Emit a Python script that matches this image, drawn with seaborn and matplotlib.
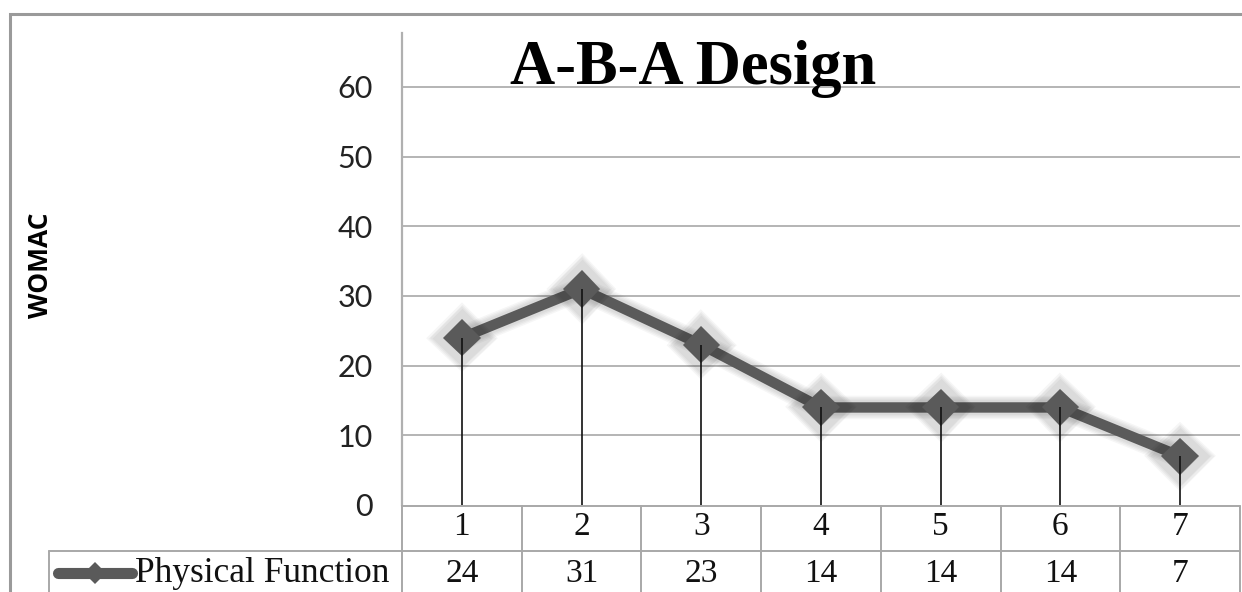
import matplotlib
matplotlib.use("Agg")
import matplotlib.pyplot as plt
import matplotlib.patheffects as pe
from matplotlib.lines import Line2D
from matplotlib.patches import Rectangle
import seaborn as sns
import pandas as pd

# Data
sessions = [1, 2, 3, 4, 5, 6, 7]
physical_function = [24, 31, 23, 14, 14, 14, 7]
series_name = "Physical Function"
y_ticks = [0, 10, 20, 30, 40, 50, 60]
title = "A-B-A Design"
y_label = "WOMAC"

df = pd.DataFrame({"session": sessions, "score": physical_function})

sns.set_theme(style="white")
plt.rcParams["font.family"] = ["DejaVu Sans"]

W, H = 1242, 592
fig = plt.figure(figsize=(W / 100, H / 100), dpi=100)
fig.patch.set_facecolor("white")

# plot area in pixel coordinates
x0, x1 = 402, 1240
y_top, y_bot = 33, 505
ax = fig.add_axes([x0 / W, 1 - y_bot / H, (x1 - x0) / W, (y_bot - y_top) / H])
ax.set_xlim(0.5, 7.5)
ax.set_ylim(0, 67.75)

line_col = "#5a5a5a"
grid_col = "#b4b4b4"
table_col = "#a8a8a8"

# horizontal gridlines
for t in y_ticks[1:]:
    ax.axhline(t, color=grid_col, lw=1.4, zorder=0)

# soft shadow behind the series line
halo = [pe.Stroke(linewidth=w, foreground="#000000", alpha=0.035)
        for w in (17, 15, 13, 11)] + [pe.Normal()]
sns.lineplot(data=df, x="session", y="score", ax=ax, color=line_col,
             linewidth=7.5, marker="D", markersize=19, markeredgewidth=0,
             zorder=3, legend=False)
for ln in ax.lines[-1:]:
    ln.set_path_effects(halo)
    ln.set_solid_joinstyle("miter")

# drop lines from each point to the axis
ax.vlines(sessions, 0, physical_function, colors="#111111", lw=1.2, zorder=4)

# axes styling
for s in ["top", "right", "bottom"]:
    ax.spines[s].set_visible(False)
ax.spines["left"].set_color("#b0b0b0")
ax.spines["left"].set_linewidth(1.6)
ax.set_xticks([])
ax.set_yticks(y_ticks)
ax.set_yticklabels([str(t) for t in y_ticks], fontfamily="Lato", fontsize=22,
                   color="#222222")
ax.tick_params(axis="y", length=0, pad=21)
ax.set_xlabel("")
ax.set_ylabel("")

# title
fig.text(693 / W, 1 - 69 / H, title, ha="center", va="center",
         fontfamily="Liberation Serif", fontweight="bold",
         fontsize=45, color="black", zorder=5)

# y label
fig.text(40 / W, 1 - 265 / H, y_label, rotation=90, ha="center", va="center",
         fontfamily="Open Sans", fontweight="bold", fontsize=19, color="black")

# data table beneath the plot
row1_top, row2_top = 506, 551
fy = lambda py: 1 - py / H
fx = lambda px: px / W
col_w = (x1 - x0) / len(sessions)
tbl_lw = 1.4
fig.add_artist(Line2D([fx(x0), fx(x1)], [fy(row1_top)] * 2, color=table_col, lw=tbl_lw))
fig.add_artist(Line2D([fx(49), fx(x1)], [fy(row2_top)] * 2, color=table_col, lw=tbl_lw))
for i in range(len(sessions) + 1):
    xb = x0 + i * col_w
    fig.add_artist(Line2D([fx(xb)] * 2, [fy(row1_top), fy(H + 5)], color=table_col, lw=tbl_lw))
fig.add_artist(Line2D([fx(49)] * 2, [fy(row2_top), fy(H + 5)], color=table_col, lw=tbl_lw))

tbl_fs = 24
for s, v in zip(sessions, physical_function):
    xc = ax.transData.transform((s, 0))[0] / W
    fig.text(xc, fy(527), str(s), ha="center", va="center",
             fontfamily="Liberation Serif", fontsize=tbl_fs, color="#111111")
    fig.text(xc, fy(574), str(v), ha="center", va="center",
             fontfamily="Liberation Serif", fontsize=tbl_fs, color="#111111")

# legend key inside the table
fig.add_artist(Line2D([fx(58), fx(132)], [fy(573)] * 2, color=line_col, lw=8,
                      solid_capstyle="round"))
fig.add_artist(Line2D([fx(95)], [fy(573)], color=line_col, marker="D",
                      markersize=11, markeredgewidth=0))
fig.text(fx(135), fy(574), series_name, ha="left", va="center",
         fontfamily="Liberation Serif", fontsize=25.5, color="#111111")

# outer frame
fig.add_artist(Rectangle((fx(10), fy(H + 20)), 1.2, fy(14) - fy(H + 20),
                         transform=fig.transFigure, fill=False,
                         edgecolor="#9a9a9a", lw=2.2))

fig.savefig("out.png", dpi=100, facecolor="white")
